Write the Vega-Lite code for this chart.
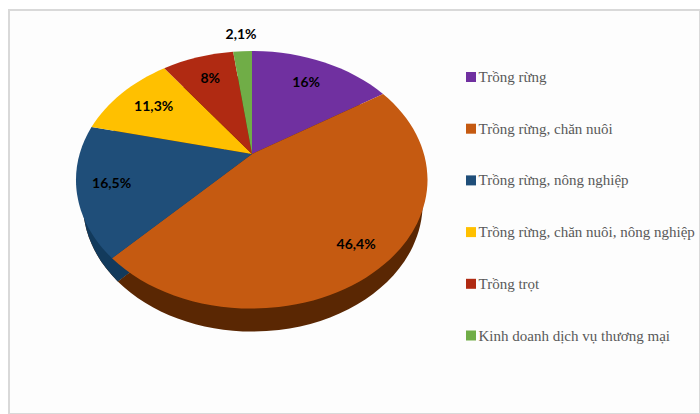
{
  "$schema": "https://vega.github.io/schema/vega-lite/v6.json",
  "width": 700,
  "height": 414,
  "autosize": {"type": "fit", "contains": "padding"},
  "padding": {"left": 9, "top": 10, "right": 0, "bottom": 0},
  "background": "#ffffff",
  "config": {"view": {"stroke": "#d9d9d9", "strokeWidth": 2, "fill": "#fdfdfd"}},
  "data": {
    "values": [
      {"pos": 1, "category": "Trồng rừng", "share": 16},
      {"pos": 2, "category": "Trồng rừng, chăn nuôi", "share": 46.4},
      {"pos": 3, "category": "Trồng rừng, nông nghiệp", "share": 16.5},
      {"pos": 4, "category": "Trồng rừng, chăn nuôi, nông nghiệp", "share": 11.3},
      {"pos": 5, "category": "Trồng trọt", "share": 8},
      {"pos": 6, "category": "Kinh doanh dịch vụ thương mại", "share": 2.1}
    ]
  },
  "transform": [
    {"stack": "share", "groupby": [], "sort": [{"field": "pos", "order": "ascending"}], "as": ["v0", "v1"]},
    {"calculate": "2*PI*datum.v0/100.3", "as": "t0"},
    {"calculate": "2*PI*datum.v1/100.3", "as": "t1"},
    {"calculate": "(datum.t0+datum.t1)/2", "as": "tm"},
    {"calculate": "round(100*172.4*sin(datum.t0)/(1+0.2016*cos(datum.t0)))/100", "as": "dx0"},
    {"calculate": "round(-100*123.8*cos(datum.t0)/(1+0.2016*cos(datum.t0)))/100", "as": "dy0"},
    {"calculate": "round(100*172.4*sin(datum.t1)/(1+0.2016*cos(datum.t1)))/100", "as": "dx1"},
    {"calculate": "round(-100*123.8*cos(datum.t1)/(1+0.2016*cos(datum.t1)))/100", "as": "dy1"},
    {"calculate": "datum.share>45?1:0", "as": "large"},
    {"calculate": "'M-102.5,-58L'+(datum.dx0-102.5)+','+(datum.dy0-58)+'A176,129 0 '+datum.large+',1 '+(datum.dx1-102.5)+','+(datum.dy1-58)+'Z'", "as": "face"},
    {"calculate": "'M-101.5,-34L'+(0.966*datum.dx0-101.5)+','+(0.992*datum.dy0-34)+'A170,128 0 '+datum.large+',1 '+(0.966*datum.dx1-101.5)+','+(0.992*datum.dy1-34)+'Z'", "as": "wall"},
    {"calculate": "datum.share<3?1.2:(datum.share>40?0.83:(datum.share>16.2?0.81:0.74))", "as": "rho"},
    {"calculate": "243+172.4*datum.rho*sin(datum.tm)/(1+0.2016*datum.rho*cos(datum.tm))", "as": "lx"},
    {"calculate": "144-123.8*datum.rho*cos(datum.tm)/(1+0.2016*datum.rho*cos(datum.tm))", "as": "ly"},
    {"calculate": "replace(''+datum.share,'.',',')+'%'", "as": "label"}
  ],
  "layer": [
    {
      "mark": {"type": "point", "filled": true},
      "encoding": {
        "size": {"value": 4},
        "opacity": {"value": 1},
        "shape": {"field": "wall", "type": "nominal", "scale": null},
        "color": {"value": "#5a2703"}
      }
    },
    {
      "transform": [{"filter": "datum.pos===3"}],
      "mark": {"type": "point", "filled": true},
      "encoding": {
        "size": {"value": 4},
        "opacity": {"value": 1},
        "shape": {"field": "wall", "type": "nominal", "scale": null},
        "color": {"value": "#123a5c"}
      }
    },
    {
      "mark": {"type": "point", "filled": true},
      "encoding": {
        "size": {"value": 4},
        "opacity": {"value": 1},
        "shape": {"field": "face", "type": "nominal", "scale": null},
        "color": {
          "field": "category", "type": "nominal",
          "scale": {
            "domain": ["Trồng rừng", "Trồng rừng, chăn nuôi", "Trồng rừng, nông nghiệp", "Trồng rừng, chăn nuôi, nông nghiệp", "Trồng trọt", "Kinh doanh dịch vụ thương mại"],
            "range": ["#7030a0", "#c55a11", "#1f4e79", "#ffc000", "#b02a12", "#70ad47"]
          },
          "legend": {
            "title": null,
            "orient": "none",
            "legendX": 454.5,
            "legendY": 59.5,
            "symbolType": "square",
            "symbolSize": 100,
            "labelFont": "Liberation Serif",
            "labelFontSize": 15,
            "labelColor": "#595959",
            "labelLimit": 240,
            "labelOffset": 0,
            "rowPadding": 35.7
          }
        }
      }
    },
    {
      "mark": {"type": "text", "font": "Lato", "fontWeight": "bold", "fontSize": 14, "color": "#000000"},
      "encoding": {
        "x": {"field": "lx", "type": "quantitative", "scale": null},
        "y": {"field": "ly", "type": "quantitative", "scale": null},
        "text": {"field": "label", "type": "nominal"}
      }
    }
  ]
}
